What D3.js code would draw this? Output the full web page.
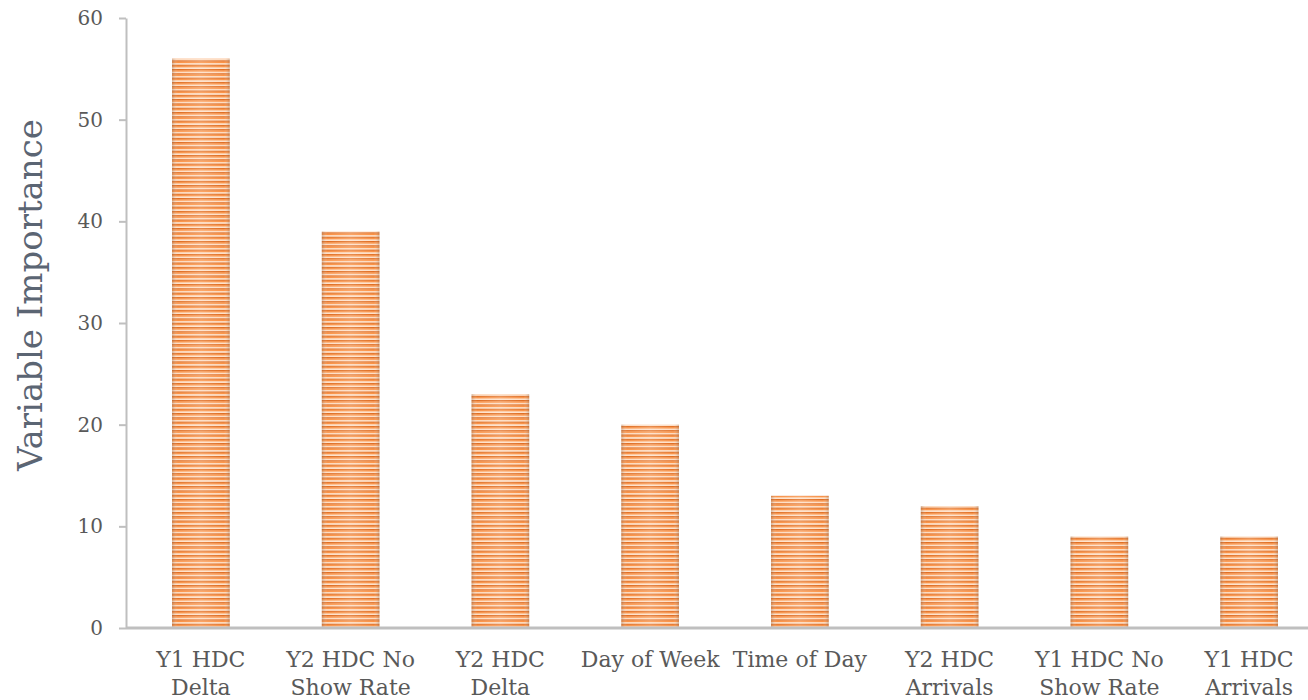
<!DOCTYPE html>
<html>
<head>
<meta charset="utf-8">
<script src="https://cdn.jsdelivr.net/npm/d3@7"></script>
<style>
  html, body { margin: 0; padding: 0; background: #fff; }
  svg { display: block; }
</style>
</head>
<body>
<svg id="chart" width="1308" height="700"></svg>
<script>
// Variable importance per predictor
const categories = [
  ["Y1 HDC", "Delta"],
  ["Y2 HDC No", "Show Rate"],
  ["Y2 HDC", "Delta"],
  ["Day of Week"],
  ["Time of Day"],
  ["Y2 HDC", "Arrivals"],
  ["Y1 HDC No", "Show Rate"],
  ["Y1 HDC", "Arrivals"]
];
const importance = [56, 39, 23, 20, 13, 12, 9, 9];
const yTicks = [0, 10, 20, 30, 40, 50, 60];
const yTitle = "Variable Importance";

const W = 1308, H = 700;
const plot = { left: 126, right: 1324, top: 18, bottom: 628 };
const font = "'DejaVu Serif', 'Liberation Serif', serif";
const textColor = "#595959";
const titleColor = "#5b6573";
const axisColor = "#bfbfbf";

const svg = d3.select("#chart");
const keys = categories.map((c, i) => i);

// The category band runs slightly past the right edge of the canvas
const x = d3.scaleBand()
  .domain(keys)
  .range([plot.left, plot.right])
  .paddingInner(0.615)
  .paddingOuter(0.3075);

const y = d3.scaleLinear()
  .domain([0, 60])
  .range([plot.bottom, plot.top]);

// Striped fill with cylinder shading
const defs = svg.append("defs");
const P = 4.3;
const pat = defs.append("pattern")
  .attr("id", "stripes")
  .attr("patternUnits", "userSpaceOnUse")
  .attr("width", 8).attr("height", P)
  .attr("y", plot.bottom);
pat.append("rect").attr("width", 8).attr("height", P).attr("fill", "#fee3cd");
pat.append("rect").attr("y", 0).attr("width", 8).attr("height", 1.4).attr("fill", "#de6a1f");
pat.append("rect").attr("y", 1.4).attr("width", 8).attr("height", 1.3).attr("fill", "#fd9142");

const shade = defs.append("linearGradient")
  .attr("id", "shade").attr("x1", "0").attr("x2", "1").attr("y1", "0").attr("y2", "0");
[
  [0, "#7a5a45", 0.32],
  [0.1, "#ffffff", 0.0],
  [0.5, "#ffffff", 0.18],
  [0.9, "#ffffff", 0.0],
  [1, "#7a5a45", 0.32]
].forEach(([o, c, a]) => shade.append("stop")
  .attr("offset", o).attr("stop-color", c).attr("stop-opacity", a));

const bars = svg.append("g");
bars.selectAll("rect.bar")
  .data(importance)
  .join("rect")
  .attr("class", "bar")
  .attr("x", (d, i) => x(i))
  .attr("y", d => y(d))
  .attr("width", x.bandwidth())
  .attr("height", d => y(0) - y(d))
  .attr("fill", "url(#stripes)");
bars.selectAll("rect.shade")
  .data(importance)
  .join("rect")
  .attr("class", "shade")
  .attr("x", (d, i) => x(i))
  .attr("y", d => y(d))
  .attr("width", x.bandwidth())
  .attr("height", d => y(0) - y(d))
  .attr("fill", "url(#shade)");

// Y axis
const yAxis = svg.append("g")
  .attr("transform", `translate(${plot.left},0)`)
  .call(d3.axisLeft(y).tickValues(yTicks).tickSize(7).tickPadding(16).tickSizeOuter(0));
yAxis.select(".domain").attr("stroke", axisColor).attr("stroke-width", 2);
yAxis.selectAll(".tick line").attr("stroke", axisColor).attr("stroke-width", 2);
yAxis.selectAll(".tick text")
  .attr("fill", textColor)
  .style("font-family", font)
  .style("font-size", "20px");

// X axis
const xAxis = svg.append("g")
  .attr("transform", `translate(0,${y(0)})`)
  .call(d3.axisBottom(x).tickSize(0).tickSizeOuter(0).tickFormat(""));
xAxis.select(".domain").attr("stroke", axisColor).attr("stroke-width", 3)
  .attr("d", `M${plot.left},0H${W}`);

// Category labels (wrapped onto two lines)
const labels = svg.append("g");
labels.selectAll("text")
  .data(categories)
  .join("text")
  .attr("x", (d, i) => x(i) + x.bandwidth() / 2)
  .attr("y", 667)
  .attr("text-anchor", "middle")
  .attr("fill", textColor)
  .style("font-family", font)
  .style("font-size", "22px")
  .each(function(d) {
    const t = d3.select(this);
    d.forEach((line, k) => {
      t.append("tspan")
        .attr("x", t.attr("x"))
        .attr("dy", k === 0 ? 0 : 28)
        .text(line);
    });
  });

// Y axis title
svg.append("text")
  .attr("transform", "translate(42,295) rotate(-90)")
  .attr("text-anchor", "middle")
  .attr("fill", titleColor)
  .style("font-family", font)
  .style("font-size", "34px")
  .text(yTitle);
</script>
</body>
</html>
